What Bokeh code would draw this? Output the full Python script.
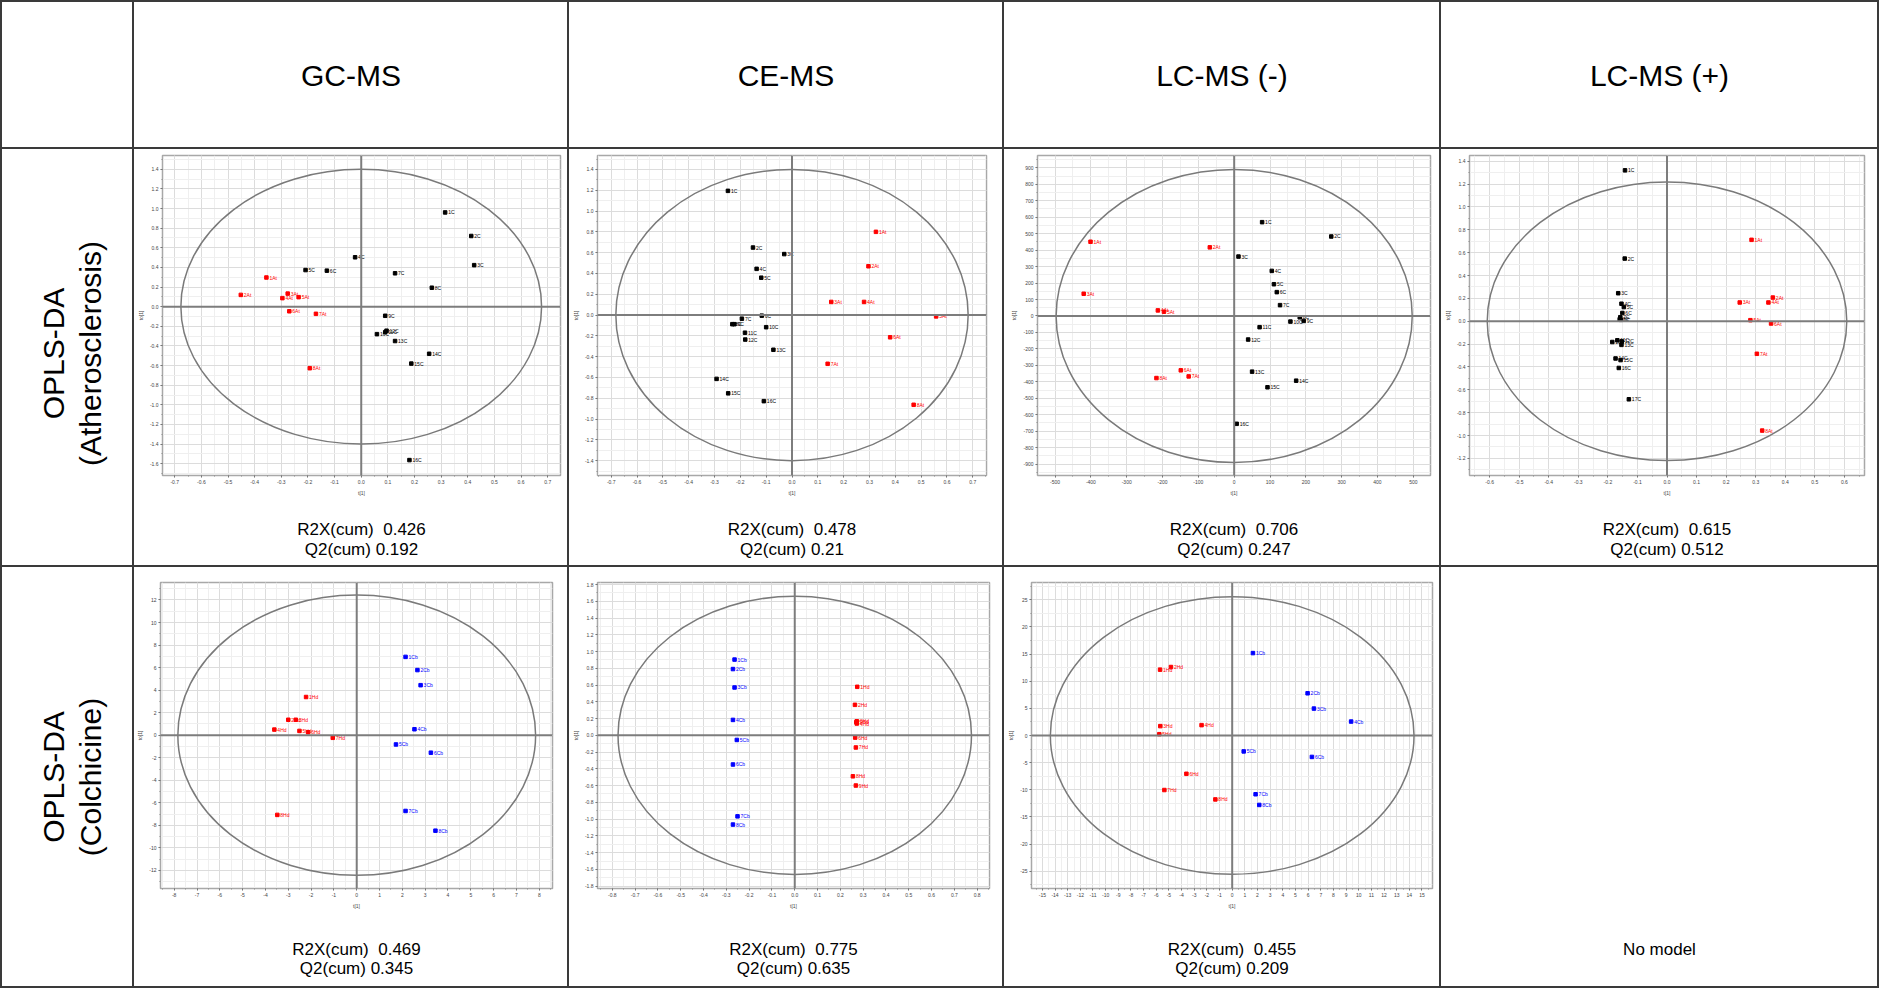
import numpy as np
from bokeh.plotting import figure
from bokeh.layouts import column, row
from bokeh.models import Div, Span, FixedTicker, PrintfTickFormatter, Range1d
from bokeh.embed import file_html
from bokeh.resources import INLINE
from bokeh.core.properties import value

FONT = "Liberation Sans"
LINE_COLOR = "#3a3a3a"


def ticks(a, b, step):
    n = int(round((b - a) / step))
    return [round(a + i * step, 4) for i in range(n + 1)]


# ---------------- texts ----------------
column_titles = ["GC-MS", "CE-MS", "LC-MS (-)", "LC-MS (+)"]
row_title_ath = ["OPLS-DA", "(Atherosclerosis)"]
row_title_col = ["OPLS-DA", "(Colchicine)"]
no_model_text = "No model"

# ---------------- model statistics ----------------
r2x_cum = [0.426, 0.478, 0.706, 0.615, 0.469, 0.775, 0.455]
q2_cum = [0.192, 0.21, 0.247, 0.512, 0.345, 0.635, 0.209]

# Hotelling T2 ellipse semi-axes (t[1], to[1])
ellipse_a = [0.677, 0.682, 497, 0.608, 7.84, 0.775, 14.37]
ellipse_b = [1.40, 1.40, 890, 1.219, 12.44, 1.66, 25.6]

# ---------------- scores: Atherosclerosis ----------------
gc_ath_ctrl_x = [0.315, 0.413, 0.424, -0.023, -0.209, -0.129, 0.127, 0.265, 0.090, 0.059, 0.090, 0.095, 0.127, 0.255, 0.188, 0.181]
gc_ath_ctrl_y = [0.96, 0.72, 0.423, 0.503, 0.373, 0.367, 0.34, 0.193, -0.093, -0.28, -0.26, -0.245, -0.35, -0.48, -0.58, -1.563]
gc_ath_case_x = [-0.356, -0.452, -0.276, -0.296, -0.235, -0.270, -0.170, -0.193]
gc_ath_case_y = [0.297, 0.120, 0.133, 0.087, 0.097, -0.047, -0.073, -0.627]

ce_ath_ctrl_x = [-0.248, -0.151, -0.030, -0.137, -0.119, -0.117, -0.194, -0.231, -0.223, -0.100, -0.182, -0.181, -0.072, -0.292, -0.247, -0.109]
ce_ath_ctrl_y = [1.194, 0.649, 0.586, 0.444, 0.359, -0.006, -0.035, -0.088, -0.088, -0.117, -0.170, -0.236, -0.334, -0.614, -0.753, -0.828]
ce_ath_case_x = [0.325, 0.296, 0.152, 0.279, 0.558, 0.380, 0.138, 0.471]
ce_ath_case_y = [0.80, 0.469, 0.126, 0.126, -0.013, -0.214, -0.469, -0.863]

lcn_ath_ctrl_x = [78, 271, 12, 105, 111, 119, 128, 183, 194, 157, 71, 39, 50, 173, 93, 7]
lcn_ath_ctrl_y = [570, 483, 361, 274, 193, 145, 66, -8, -30, -34, -68, -143, -338, -393, -433, -655]
lcn_ath_case_x = [-401, -68, -420, -213, -196, -149, -127, -217]
lcn_ath_case_y = [451, 417, 135, 34, 26, -330, -367, -377]

lcp_ath_ctrl_x = [-0.142, -0.143, -0.165, -0.154, -0.146, -0.151, -0.158, -0.160, -0.156, -0.185, -0.168, -0.153, -0.154, -0.174, -0.157, -0.163, -0.129]
lcp_ath_ctrl_y = [1.32, 0.548, 0.245, 0.153, 0.124, 0.072, 0.035, 0.017, 0.012, -0.182, -0.167, -0.176, -0.207, -0.326, -0.340, -0.409, -0.683]
lcp_ath_case_x = [0.286, 0.358, 0.246, 0.343, 0.282, 0.352, 0.304, 0.322]
lcp_ath_case_y = [0.712, 0.207, 0.164, 0.164, 0.009, -0.020, -0.285, -0.957]

# ---------------- scores: Colchicine ----------------
gc_col_pre_x = [-2.22, -3.00, -2.67, -3.61, -2.51, -2.13, -1.05, -3.48]
gc_col_pre_y = [3.39, 1.37, 1.37, 0.50, 0.38, 0.26, -0.23, -7.07]
gc_col_post_x = [2.14, 2.66, 2.80, 2.53, 1.72, 3.25, 2.14, 3.45]
gc_col_post_y = [6.95, 5.78, 4.44, 0.53, -0.82, -1.55, -6.72, -8.47]

ce_col_pre_x = [0.274, 0.264, 0.272, 0.272, 0.270, 0.265, 0.268, 0.255, 0.268]
ce_col_pre_y = [0.579, 0.364, 0.168, 0.141, 0.157, -0.027, -0.145, -0.489, -0.599]
ce_col_post_x = [-0.264, -0.271, -0.264, -0.271, -0.254, -0.271, -0.251, -0.271]
ce_col_post_y = [0.904, 0.791, 0.571, 0.184, -0.055, -0.348, -0.967, -1.065]

lcn_col_pre_x = [-5.70, -4.84, -5.68, -2.42, -5.76, -3.62, -5.36, -1.33]
lcn_col_pre_y = [12.14, 12.62, 1.73, 1.91, 0.24, -7.06, -10.05, -11.78]
lcn_col_post_x = [1.64, 5.96, 6.46, 9.40, 0.91, 6.30, 1.85, 2.14]
lcn_col_post_y = [15.19, 7.78, 4.96, 2.57, -2.93, -3.95, -10.83, -12.80]

# ---------------- tick values ----------------
gc_ath_xticks = ticks(-0.7, 0.7, 0.1)
gc_ath_yticks = ticks(-1.6, 1.4, 0.2)
ce_ath_xticks = ticks(-0.7, 0.7, 0.1)
ce_ath_yticks = ticks(-1.4, 1.4, 0.2)
lcn_ath_xticks = ticks(-500, 500, 100)
lcn_ath_yticks = ticks(-900, 900, 100)
lcp_ath_xticks = ticks(-0.6, 0.6, 0.1)
lcp_ath_yticks = ticks(-1.2, 1.4, 0.2)
gc_col_xticks = ticks(-8, 8, 1)
gc_col_yticks = ticks(-12, 12, 2)
ce_col_xticks = ticks(-0.8, 0.8, 0.1)
ce_col_yticks = ticks(-1.8, 1.8, 0.2)
lcn_col_xticks = ticks(-15, 15, 1)
lcn_col_yticks = ticks(-25, 25, 5)

BLACK, RED, BLUE = "#000000", "#ff0000", "#0000ff"

# ---------------- layout sizes ----------------
LW = 2
COL_W = [130, 433, 433, 435, 436]
ROW_H = [145, 416, 419]
TOTAL_W = sum(COL_W) + LW * (len(COL_W) + 1)


def blank_fig(w, h):
    f = figure(width=w, height=h, title=None, x_range=Range1d(0, w), y_range=Range1d(0, h),
               x_axis_type=None, y_axis_type=None, output_backend="svg", toolbar_location=None,
               min_border=0, outline_line_color=None, background_fill_color="white",
               border_fill_color="white")
    return f


def text_fig(w, h, texts, xs, ys, size, angle=0.0):
    f = blank_fig(w, h)
    if texts:
        f.text(x=xs, y=ys, text=texts, angle=angle, text_align="center", text_baseline="middle",
               text_font=value(FONT), text_font_size=size, text_color="#000000")
    return f


def scatter_fig(w, h, left, right, top, bottom, xr, yr, xt, yt, fmt, groups, a, b):
    p = figure(width=w, height=h, title=None, x_range=Range1d(*xr), y_range=Range1d(*yr),
               output_backend="svg", toolbar_location=None,
               min_border_left=left, min_border_right=right, min_border_top=top,
               min_border_bottom=bottom, outline_line_color="#a8a8a8", outline_line_width=1.5,
               background_fill_color="white", border_fill_color="white")
    xs = xt[1] - xt[0]
    ys = yt[1] - yt[0]
    xminor = list(np.arange(xt[0] - xs, xt[-1] + xs * 1.01, xs / 2))
    yminor = list(np.arange(yt[0] - ys, yt[-1] + ys * 1.01, ys / 2))
    xtk = FixedTicker(ticks=xt, minor_ticks=xminor)
    ytk = FixedTicker(ticks=yt, minor_ticks=yminor)
    p.xaxis.ticker = xtk
    p.yaxis.ticker = ytk
    p.xgrid.ticker = xtk
    p.ygrid.ticker = ytk
    p.xaxis.formatter = PrintfTickFormatter(format=fmt)
    p.yaxis.formatter = PrintfTickFormatter(format=fmt)
    p.xaxis.axis_label = "t[1]"
    p.yaxis.axis_label = "to[1]"
    for ax in (p.xaxis[0], p.yaxis[0]):
        ax.major_label_text_font_size = "5px"
        ax.major_label_text_font = FONT
        ax.major_label_text_color = "#444444"
        ax.axis_line_color = "#a8a8a8"
        ax.major_tick_line_color = "#666666"
        ax.minor_tick_line_color = "#888888"
        ax.major_tick_in = 0
        ax.major_tick_out = 2
        ax.minor_tick_in = 0
        ax.minor_tick_out = 1
        ax.major_label_standoff = 2
        ax.axis_label_text_font_size = "5px"
        ax.axis_label_text_font = FONT
        ax.axis_label_text_font_style = "normal"
        ax.axis_label_text_color = "#444444"
        ax.axis_label_standoff = 3
    for g in (p.xgrid[0], p.ygrid[0]):
        g.grid_line_color = "#dcdcdc"
        g.minor_grid_line_color = "#efefef"
    p.add_layout(Span(location=0, dimension="width", line_color="#7d7d7d", line_width=2))
    p.add_layout(Span(location=0, dimension="height", line_color="#7d7d7d", line_width=2))
    p.ellipse(x=[0], y=[0], width=[2 * a], height=[2 * b], fill_color=None,
              line_color="#7a7a7a", line_width=1.5)
    for gx, gy, color, suffix in groups:
        names = [f"{i + 1}{suffix}" for i in range(len(gx))]
        p.scatter(gx, gy, marker="square", size=3.5, color=color)
        p.text(gx, gy, text=names, x_offset=3, text_font=value(FONT), text_font_size="5px",
               text_color=color, text_baseline="middle", text_align="left")
    return p


def plot_cell(w, row_h, fig_h, left, right, top, xr, yr, xt, yt, fmt, groups, k, text_ys):
    sc = scatter_fig(w, fig_h, left, right, top, 30, xr, yr, xt, yt, fmt, groups,
                     ellipse_a[k], ellipse_b[k])
    th = row_h - fig_h
    lines = [f"R2X(cum)\u00a0\u00a0{r2x_cum[k]}", f"Q2(cum) {q2_cum[k]}"]
    tf = text_fig(w, th, lines, [w / 2, w / 2], [th - text_ys[0], th - text_ys[1]], "17px")
    return column(sc, tf, spacing=0)


def hline():
    return Div(width=TOTAL_W, height=LW, margin=0, styles={"background-color": LINE_COLOR})


def vline(h):
    return Div(width=LW, height=h, margin=0, styles={"background-color": LINE_COLOR})


# ---------------- header row ----------------
h0 = ROW_H[0]
header_cells = [blank_fig(COL_W[0], h0)]
for i, t in enumerate(column_titles):
    w = COL_W[i + 1]
    header_cells.append(text_fig(w, h0, [t], [w / 2], [h0 / 2], "30px"))

# ---------------- row 1 : atherosclerosis ----------------
h1 = ROW_H[1]
F1 = 356
T1 = (24, 44)
ath_label = text_fig(COL_W[0], h1, row_title_ath, [51, 88], [h1 / 2 + 4, h1 / 2 + 4], "30px", angle=np.pi / 2)
row1_cells = [
    ath_label,
    plot_cell(COL_W[1], h1, F1, 27, 7, 6, (-0.746, 0.748), (-1.72, 1.54), gc_ath_xticks, gc_ath_yticks, "%.1f",
              [(gc_ath_ctrl_x, gc_ath_ctrl_y, BLACK, "C"), (gc_ath_case_x, gc_ath_case_y, RED, "At")], 0, T1),
    plot_cell(COL_W[2], h1, F1, 23, 16, 6, (-0.753, 0.753), (-1.543, 1.534), ce_ath_xticks, ce_ath_yticks, "%.1f",
              [(ce_ath_ctrl_x, ce_ath_ctrl_y, BLACK, "C"), (ce_ath_case_x, ce_ath_case_y, RED, "At")], 1, T1),
    plot_cell(COL_W[3], h1, F1, 33, 9, 6, (-549, 548), (-969, 975), lcn_ath_xticks, lcn_ath_yticks, "%d",
              [(lcn_ath_ctrl_x, lcn_ath_ctrl_y, BLACK, "C"), (lcn_ath_case_x, lcn_ath_case_y, RED, "At")], 2, T1),
    plot_cell(COL_W[4], h1, F1, 23, 13, 6, (-0.668, 0.668), (-1.35, 1.45), lcp_ath_xticks, lcp_ath_yticks, "%.1f",
              [(lcp_ath_ctrl_x, lcp_ath_ctrl_y, BLACK, "C"), (lcp_ath_case_x, lcp_ath_case_y, RED, "At")], 3, T1),
]

# ---------------- row 2 : colchicine ----------------
h2 = ROW_H[2]
F2 = 351
T2 = (31, 50)
col_label = text_fig(COL_W[0], h2, row_title_col, [51, 88], [h2 / 2, h2 / 2], "30px", angle=np.pi / 2)
row2_cells = [
    col_label,
    plot_cell(COL_W[1], h2, F2, 21, 15, 15, (-8.6, 8.58), (-13.6, 13.55), gc_col_xticks, gc_col_yticks, "%d",
              [(gc_col_pre_x, gc_col_pre_y, RED, "Hd"), (gc_col_post_x, gc_col_post_y, BLUE, "Cb")], 4, T2),
    plot_cell(COL_W[2], h2, F2, 22, 13, 15, (-0.865, 0.854), (-1.828, 1.824), ce_col_xticks, ce_col_yticks, "%.1f",
              [(ce_col_post_x, ce_col_post_y, BLUE, "Cb"), (ce_col_pre_x, ce_col_pre_y, RED, "Hd")], 5, T2),
    plot_cell(COL_W[3], h2, F2, 27, 7, 15, (-15.86, 15.83), (-28.2, 28.2), lcn_col_xticks, lcn_col_yticks, "%d",
              [(lcn_col_pre_x, lcn_col_pre_y, RED, "Hd"), (lcn_col_post_x, lcn_col_post_y, BLUE, "Cb")], 6, T2),
    text_fig(COL_W[4], h2, [no_model_text], [COL_W[4] / 2], [h2 - (F2 + T2[0])], "17px"),
]


def table_row(cells, h):
    kids = [vline(h)]
    for c in cells:
        kids.append(c)
        kids.append(vline(h))
    return row(*kids, spacing=0)


p = column(
    hline(),
    table_row(header_cells, h0),
    hline(),
    table_row(row1_cells, h1),
    hline(),
    table_row(row2_cells, h2),
    hline(),
    spacing=0,
)

open("out.html", "w").write(file_html(p, INLINE))
